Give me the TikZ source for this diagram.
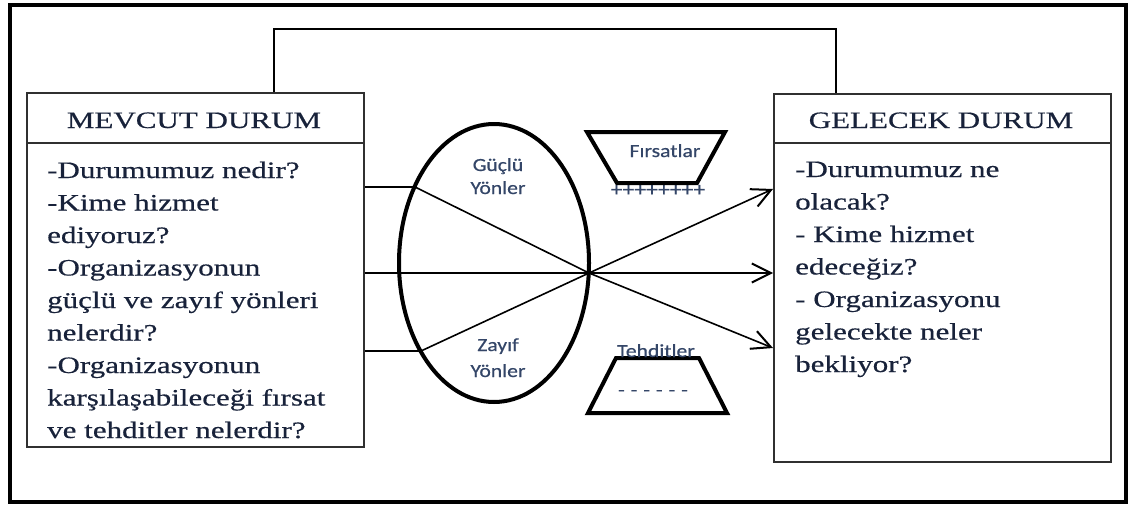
\documentclass[tikz,border=0pt]{standalone}
\usepackage{fontspec}
\setmainfont{Liberation Serif}[FakeStretch=1.32,FakeBold=0.5]
\newfontfamily\labelfont{Carlito}[FakeStretch=1.17,FakeBold=0.6]
\usetikzlibrary{shapes.geometric,arrows.meta}
\definecolor{inkblue}{HTML}{18223A}
\definecolor{labelblue}{HTML}{344668}
\definecolor{boxline}{HTML}{303030}
\begin{document}
\begin{tikzpicture}[x=1pt,y=-1pt,
  frame/.style={line width=4pt},
  panel/.style={draw=boxline,line width=2pt,inner sep=0pt,anchor=north west},
  bodytext/.style={anchor=base west,inner sep=0pt,text=inkblue,font=\fontsize{23.5}{28}\selectfont},
  headtext/.style={anchor=base,inner sep=0pt,text=inkblue,font=\fontsize{23.5}{28}\selectfont},
  tag/.style={anchor=base,inner sep=0pt,text=labelblue,font=\labelfont\fontsize{18.5}{22}\selectfont},
  wire/.style={line width=1.6pt},
  flow/.style={wire,-{Straight Barb[length=19pt,width=19pt,line width=2pt]}},
  heavy/.style={line width=4pt,line join=miter}
]
\useasboundingbox (0,0) rectangle (1130,506);
% outer frame
\draw[frame] (10,4.5) rectangle (1126,502);

% the two panels
\node[panel,minimum width=337pt,minimum height=354pt] (mevcut) at (26,92) {};
\node[panel,minimum width=337pt,minimum height=368pt] (gelecek) at (773,93) {};
\draw[draw=boxline,line width=2pt] (mevcut.west |- 0,143) -- (mevcut.east |- 0,143);
\draw[draw=boxline,line width=2pt] (gelecek.west |- 0,143) -- (gelecek.east |- 0,143);

\node[headtext] (mevcutTitle) at (194,128) {MEVCUT DURUM};
\node[headtext] (gelecekTitle) at (941,128) {GELECEK DURUM};

\foreach \t [count=\i] in {{-Durumumuz nedir?},{-Kime hizmet},{ediyoruz?},
  {-Organizasyonun},{güçlü ve zayıf yönleri},{nelerdir?},{-Organizasyonun},
  {karşılaşabileceği fırsat},{ve tehditler nelerdir?}}
  \node[bodytext] (left\i) at (47,{178+(\i-1)*32.5}) {\t};

\foreach \t [count=\i] in {{-Durumumuz ne},{olacak?},{- Kime hizmet},{edeceğiz?},
  {- Organizasyonu},{gelecekte neler},{bekliyor?}}
  \node[bodytext] (right\i) at (795,{177+(\i-1)*32.5}) {\t};

% feedback loop over the top
\coordinate (topL) at (274,29);
\coordinate (topR) at (836,29);
\draw[wire] (mevcut.north -| topL) -- (topL) -- (topR) -- (gelecek.north -| topR);

% strengths / weaknesses ellipse
\node[ellipse,draw,line width=4pt,minimum width=190pt,minimum height=278pt,inner sep=0pt] (swot) at (494,263) {};
\node[tag] (guclu) at (498,171) {Güçlü};
\node[tag] (guclu2) at (498,194) {Yönler};
\node[tag] (zayif) at (498,351) {Zayıf};
\node[tag] (zayif2) at (498,377) {Yönler};

% connectors through the hub
\coordinate (hub) at (589,273);
\coordinate (upperBend) at (415,187);
\coordinate (lowerBend) at (421,351);
\draw[wire] (mevcut.east |- upperBend) -- (upperBend) -- (hub);
\draw[wire] (mevcut.east |- lowerBend) -- (lowerBend) -- (hub);
\draw[flow] (mevcut.east |- hub) -- (gelecek.west |- hub);
\draw[flow] (hub) -- (gelecek.west |- 0,189);
\draw[flow] (hub) -- (gelecek.west |- 0,348);

% opportunities
\node[tag] (plusses) at (658,196) {\fontsize{20}{22}\selectfont ++++++++};
\draw[heavy] (587,132) -- (725,132) -- (697,183) -- (617,183) -- cycle;
\node[tag] (firsat) at (665,157) {Fırsatlar};

% threats
\draw[heavy] (616,358) -- (699,358) -- (727,413) -- (588,413) -- cycle;
\node[tag] (tehdit) at (656,357) {Tehditler};
\node[tag] (dashes) at (653,396) {-\hspace{6pt}-\hspace{6pt}-\hspace{6pt}-\hspace{6pt}-\hspace{6pt}-};
\end{tikzpicture}
\end{document}
